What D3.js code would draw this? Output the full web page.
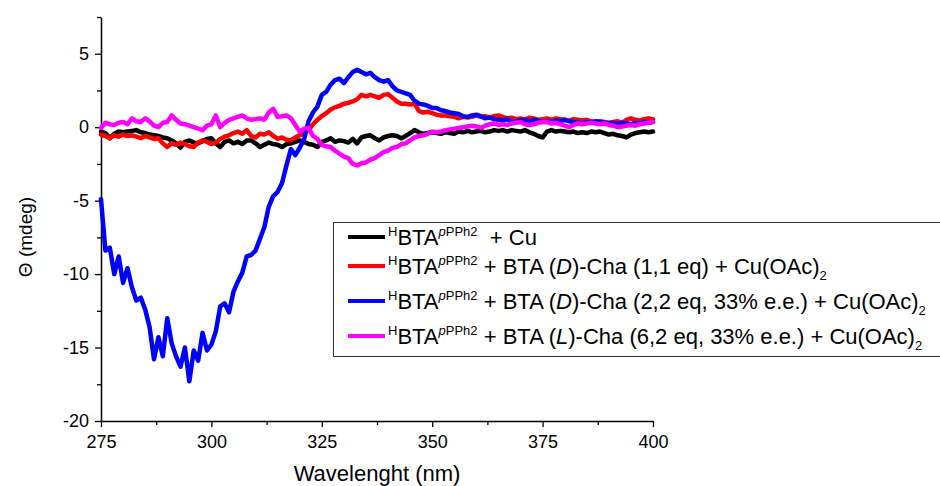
<!DOCTYPE html>
<html><head><meta charset="utf-8">
<script src="https://cdn.jsdelivr.net/npm/d3@7"></script>
<style>body{margin:0;background:#fff}svg{display:block;font-family:Arial,"Liberation Sans",sans-serif}</style>
</head><body><svg id="c" width="940" height="486"></svg>
<script>
const wavelengths = d3.range(275, 401, 1);
const xTicks = [275, 300, 325, 350, 375, 400];
const yTicks = [-20, -15, -10, -5, 0, 5];
const seriesNames = ["black", "red", "blue", "magenta"];
const blackVals = [-0.3,-0.4,-0.75,-0.45,-0.3,-0.35,-0.3,-0.25,-0.2,-0.35,-0.4,-0.5,-0.55,-0.6,-0.7,-0.75,-0.9,-1.1,-1.4,-1.0,-0.9,-1.05,-1.1,-0.95,-0.8,-0.75,-1.1,-1.35,-1.0,-0.9,-1.1,-1.0,-1.15,-0.9,-0.9,-1.1,-1.35,-1.2,-1.05,-1.15,-1.2,-1.35,-1.15,-1.1,-1.0,-0.9,-1.0,-1.15,-1.2,-1.35,-1.0,-0.9,-0.75,-1.0,-0.9,-0.95,-1.05,-0.8,-1.1,-0.7,-0.6,-0.55,-0.75,-0.9,-0.7,-0.6,-0.55,-0.6,-0.75,-0.6,-0.4,-0.2,-0.35,-0.45,-0.4,-0.35,-0.4,-0.45,-0.35,-0.4,-0.45,-0.3,-0.35,-0.25,-0.35,-0.3,-0.25,-0.35,-0.3,-0.2,-0.25,-0.2,-0.3,-0.2,-0.25,-0.3,-0.2,-0.35,-0.45,-0.6,-0.7,-0.3,-0.2,-0.3,-0.25,-0.3,-0.35,-0.3,-0.4,-0.35,-0.4,-0.3,-0.35,-0.3,-0.4,-0.5,-0.45,-0.55,-0.6,-0.7,-0.5,-0.4,-0.35,-0.3,-0.35,-0.3];
const redVals = [-0.5,-0.6,-0.75,-0.55,-0.65,-0.5,-0.6,-0.55,-0.65,-0.75,-0.6,-0.7,-0.8,-0.75,-1.1,-1.35,-1.1,-1.2,-1.05,-1.15,-1.3,-1.35,-1.05,-0.9,-1.0,-1.15,-1.05,-0.8,-0.65,-0.55,-0.4,-0.3,-0.45,-0.2,-0.6,-0.7,-0.45,-0.5,-0.35,-0.6,-0.8,-0.7,-0.85,-0.9,-0.7,-0.55,-0.4,-0.2,0.2,0.5,0.75,0.95,1.2,1.35,1.45,1.6,1.65,1.75,1.9,2.2,2.1,2.2,2.1,2.0,2.2,2.25,2.0,1.75,1.6,1.6,1.55,1.6,1.1,1.0,1.05,0.95,0.85,0.8,0.8,0.75,0.7,0.6,0.7,0.65,0.7,0.8,0.7,0.75,0.65,0.75,0.8,0.7,0.6,0.65,0.55,0.6,0.5,0.65,0.6,0.5,0.55,0.6,0.5,0.6,0.55,0.5,0.45,0.55,0.5,0.45,0.5,0.4,0.35,0.4,0.35,0.3,0.35,0.4,0.3,0.5,0.6,0.5,0.45,0.55,0.6,0.55];
const blueVals = [-4.9,-8.4,-8.2,-10.0,-8.8,-10.6,-9.6,-10.9,-11.8,-11.6,-12.4,-13.6,-15.8,-14.3,-15.6,-13.0,-14.7,-15.6,-16.3,-15.0,-17.3,-15.2,-15.9,-14.0,-15.2,-14.8,-13.9,-12.2,-12.0,-12.6,-11.2,-10.5,-9.9,-8.8,-8.7,-8.4,-7.6,-6.8,-5.4,-4.7,-4.4,-3.8,-2.6,-1.5,-1.9,-1.4,-0.8,0.4,1.0,1.4,2.2,2.4,2.9,3.2,3.3,3.0,3.4,3.75,3.9,3.75,3.6,3.7,3.4,3.2,3.1,3.2,2.8,2.5,2.4,2.3,2.2,1.8,1.6,1.55,1.45,1.3,1.3,1.15,1.1,1.0,0.95,0.9,0.75,0.7,0.8,0.85,0.75,0.6,0.65,0.55,0.5,0.45,0.55,0.35,0.4,0.45,0.5,0.4,0.5,0.45,0.35,0.4,0.35,0.45,0.4,0.5,0.4,0.35,0.3,0.25,0.35,0.3,0.4,0.35,0.3,0.25,0.3,0.2,0.3,0.25,0.2,0.3,0.25,0.35,0.3,0.35];
const magentaVals = [-0.05,0.3,0.2,0.15,0.3,0.35,0.2,0.6,0.4,0.35,0.6,0.4,0.1,0.0,0.3,0.35,0.8,0.5,0.25,0.2,0.1,0.0,-0.1,-0.2,0.1,0.2,0.8,0.0,0.3,0.5,0.6,0.7,0.8,0.6,0.5,0.55,0.6,0.5,1.0,1.25,0.7,0.75,0.8,0.6,0.15,-0.3,-0.1,-0.05,-0.6,-0.8,-1.2,-1.3,-1.35,-1.6,-1.8,-2.0,-2.1,-2.5,-2.6,-2.45,-2.4,-2.2,-2.1,-1.9,-1.7,-1.6,-1.4,-1.35,-1.15,-1.1,-0.9,-0.7,-0.6,-0.55,-0.45,-0.3,-0.35,-0.3,-0.2,-0.15,-0.1,-0.05,0.0,0.05,0.1,0.05,-0.05,0.1,0.2,0.25,0.15,0.2,0.15,0.25,0.3,0.35,0.2,0.15,0.2,0.3,0.35,0.35,0.25,0.3,0.2,0.1,0.0,0.15,0.25,0.2,0.25,0.3,0.25,0.2,0.25,0.15,0.1,0.0,0.05,0.1,0.15,0.1,0.2,0.25,0.3,0.35];
const colors = ["#000000", "#ff0000", "#0000ff", "#ff00ff"];
const legendParts = [
  {mid: "", ital: "", tail: "", simple: true},
  {mid: " + BTA (", ital: "D", tail: ")-Cha (1,1 eq) + Cu(OAc)"},
  {mid: " + BTA (", ital: "D", tail: ")-Cha (2,2 eq, 33% e.e.) + Cu(OAc)"},
  {mid: " + BTA (", ital: "L", tail: ")-Cha (6,2 eq, 33% e.e.) + Cu(OAc)"}
];

const svg = d3.select("#c");
const x = d3.scaleLinear().domain([275, 400]).range([101, 653]);
const y = d3.scaleLinear().domain([-20, 7.5]).range([421, 17]);
const fmt = d => String(d);

// axes
const xMinor = d3.range(287.5, 400, 25);
const yMinor = d3.range(-17.5, 8, 5);
const gx = svg.append("g").attr("transform", "translate(0,421)")
  .call(d3.axisBottom(x).tickValues(xTicks).tickFormat(fmt).tickSize(6).tickSizeOuter(0).tickPadding(5));
svg.append("g").attr("transform", "translate(0,421)")
  .call(d3.axisBottom(x).tickValues(xMinor).tickSize(4).tickFormat("")).select(".domain").remove();
const gy = svg.append("g").attr("transform", "translate(101,0)")
  .call(d3.axisLeft(y).tickValues(yTicks).tickFormat(fmt).tickSize(6).tickSizeOuter(0).tickPadding(6));
svg.append("g").attr("transform", "translate(101,0)")
  .call(d3.axisLeft(y).tickValues(yMinor).tickSize(4).tickFormat("")).select(".domain").remove();
svg.selectAll(".tick line").attr("stroke", "#000").attr("stroke-width", 1.3);
svg.selectAll(".domain").attr("stroke", "#000").attr("stroke-width", 1.5);
svg.selectAll(".tick text").attr("font-size", 18).attr("fill", "#000").attr("font-family", "Arial, 'Liberation Sans', sans-serif");
gx.selectAll(".tick text").attr("dy", "0.9em");

// axis titles
svg.append("text").attr("x", 377).attr("y", 481).attr("text-anchor", "middle")
  .attr("font-size", 22).text("Wavelenght (nm)");
svg.append("text").attr("transform", "translate(32,237) rotate(-90)").attr("text-anchor", "middle")
  .attr("font-size", 19).text("Θ (mdeg)");

// lines
const allVals = [blackVals, redVals, blueVals, magentaVals];
const line = d3.line().x((d, i) => x(wavelengths[i])).y(d => y(d));
allVals.forEach((vals, k) => {
  svg.append("path").datum(vals).attr("d", line).attr("fill", "none")
    .attr("stroke", colors[k]).attr("stroke-width", 4.5).attr("stroke-linejoin", "round").attr("stroke-linecap", "round");
});

// legend
svg.append("rect").attr("x", 333.5).attr("y", 222.5).attr("width", 620).attr("height", 134)
  .attr("fill", "#fff").attr("stroke", "#333").attr("stroke-width", 1);
const rowsY = [237, 266, 301, 336];
legendParts.forEach((p, k) => {
  const yy = rowsY[k];
  svg.append("line").attr("x1", 348).attr("x2", 385).attr("y1", yy).attr("y2", yy)
    .attr("stroke", colors[k]).attr("stroke-width", 4);
  const t = svg.append("text").attr("x", 388).attr("y", yy + 8).attr("font-size", 22).attr("fill", "#000");
  t.append("tspan").attr("font-size", 13).attr("dy", -9).text("H");
  t.append("tspan").attr("dy", 9).text("BTA");
  t.append("tspan").attr("font-size", 13).attr("dy", -9).attr("font-style", "italic").text("p");
  t.append("tspan").attr("font-size", 13).text("PPh2");
  if (p.simple) {
    t.append("tspan").attr("dy", 9).text("\u00a0 + Cu");
  } else {
    t.append("tspan").attr("dy", 9).text(p.mid);
    t.append("tspan").attr("font-style", "italic").text(p.ital);
    t.append("tspan").text(p.tail);
    t.append("tspan").attr("font-size", 13).attr("dy", 6).text("2");
  }
});
</script></body></html>
